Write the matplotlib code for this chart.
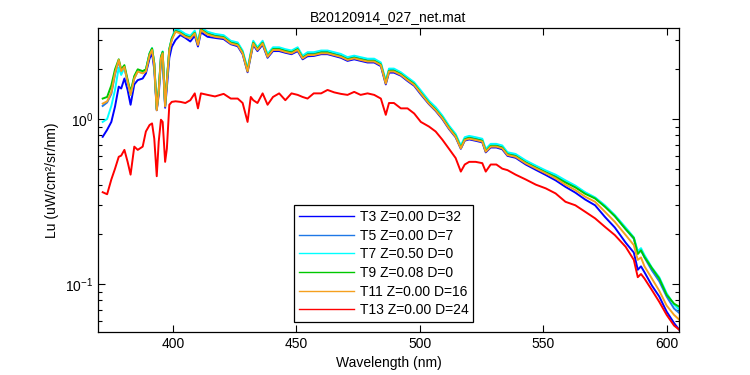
import matplotlib
matplotlib.use('Agg')
import matplotlib.pyplot as plt
from matplotlib.ticker import LogLocator, NullFormatter, MultipleLocator

# fonte parecida com Arial/Helvetica
plt.rcParams['font.family'] = ['Liberation Sans', 'DejaVu Sans']
plt.rcParams['font.size'] = 10

# comprimentos de onda (nm)
wl = [371.5, 373.3, 375.0, 376.5, 378.0, 379.0, 380.3, 381.6, 382.8, 384.3,
      385.7, 387.7, 389.0, 390.5, 391.5, 392.4, 393.4, 394.2, 395.1, 395.8,
      396.8, 397.5, 398.5, 399.5, 401.0, 403.0, 405.0, 407.0, 408.8, 410.1,
      411.3, 414.0, 417.0, 420.5, 423.4, 426.2, 428.2, 430.2, 431.5, 432.5,
      434.2, 436.3, 438.3, 440.5, 443.0, 445.5, 448.0, 450.5, 452.5, 454.5,
      457.0, 460.0, 462.6, 465.3, 468.0, 470.7, 473.4, 476.0, 478.8, 481.5,
      484.2, 486.2, 487.5, 489.5, 492.3, 495.0, 497.7, 500.4, 503.7, 506.4,
      509.1, 511.8, 514.5, 516.6, 518.2, 520.0, 522.6, 525.3, 526.7, 528.7,
      531.0, 533.4, 535.5, 538.8, 542.9, 547.0, 551.0, 555.0, 559.0, 563.0,
      567.0, 571.0, 575.0, 579.0, 583.4, 586.7, 588.3, 589.6, 591.0, 594.0,
      597.0, 600.0, 603.0, 605.0]

# Lu de cada série
t3 = [0.78, 0.86, 0.96, 1.19, 1.57, 1.53, 1.76, 1.50, 1.22, 1.62,
      1.72, 1.76, 1.89, 2.33, 2.50, 2.00, 1.13, 1.40, 2.23, 2.30,
      1.17, 1.55, 2.35, 2.74, 3.01, 3.23, 3.10, 2.95, 3.20, 2.75,
      3.35, 3.15, 3.10, 3.05, 2.84, 2.76, 2.47, 1.92, 2.40, 2.82,
      2.58, 2.82, 2.35, 2.58, 2.58, 2.52, 2.47, 2.58, 2.30, 2.40,
      2.41, 2.47, 2.47, 2.41, 2.35, 2.25, 2.30, 2.25, 2.20, 2.20,
      2.09, 1.62, 1.91, 1.91, 1.83, 1.70, 1.59, 1.41, 1.23, 1.12,
      1.00, 0.870, 0.775, 0.660, 0.740, 0.752, 0.738, 0.722, 0.628, 0.672,
      0.672, 0.655, 0.598, 0.582, 0.530, 0.492, 0.458, 0.425, 0.388, 0.358,
      0.325, 0.300, 0.255, 0.220, 0.178, 0.155, 0.122, 0.128, 0.118, 0.098,
      0.084, 0.068, 0.058, 0.053]

t5 = [1.20, 1.26, 1.42, 1.86, 2.25, 1.93, 2.05, 1.67, 1.40, 1.76,
      1.95, 1.90, 1.96, 2.47, 2.66, 2.15, 1.14, 1.48, 2.36, 2.54,
      1.20, 1.70, 2.62, 3.05, 3.45, 3.37, 3.21, 3.14, 3.37, 2.87,
      3.53, 3.32, 3.21, 3.16, 2.93, 2.86, 2.55, 1.98, 2.49, 2.93,
      2.67, 2.93, 2.43, 2.67, 2.67, 2.60, 2.55, 2.67, 2.38, 2.49,
      2.49, 2.55, 2.55, 2.49, 2.43, 2.33, 2.38, 2.33, 2.27, 2.27,
      2.16, 1.67, 1.98, 1.98, 1.89, 1.75, 1.64, 1.46, 1.26, 1.15,
      1.03, 0.896, 0.797, 0.677, 0.761, 0.775, 0.761, 0.745, 0.647, 0.694,
      0.694, 0.677, 0.617, 0.602, 0.550, 0.512, 0.478, 0.450, 0.420, 0.390,
      0.357, 0.332, 0.296, 0.258, 0.215, 0.188, 0.154, 0.160, 0.145, 0.121,
      0.104, 0.084, 0.071, 0.067]

t7 = [0.96, 1.00, 1.20, 1.50, 2.05, 1.85, 2.05, 1.70, 1.40, 1.80,
      1.96, 1.93, 1.99, 2.50, 2.69, 2.17, 1.16, 1.50, 2.39, 2.57,
      1.22, 1.72, 2.66, 3.10, 3.52, 3.43, 3.28, 3.20, 3.43, 2.92,
      3.60, 3.38, 3.28, 3.22, 2.98, 2.91, 2.60, 2.02, 2.54, 2.98,
      2.72, 2.98, 2.48, 2.72, 2.72, 2.65, 2.60, 2.72, 2.42, 2.54,
      2.54, 2.60, 2.60, 2.54, 2.48, 2.37, 2.42, 2.37, 2.32, 2.32,
      2.20, 1.71, 2.02, 2.02, 1.92, 1.79, 1.67, 1.49, 1.29, 1.18,
      1.05, 0.913, 0.812, 0.691, 0.776, 0.790, 0.776, 0.759, 0.659, 0.707,
      0.707, 0.691, 0.629, 0.614, 0.561, 0.522, 0.488, 0.460, 0.425, 0.395,
      0.360, 0.335, 0.300, 0.262, 0.220, 0.192, 0.158, 0.165, 0.150, 0.126,
      0.110, 0.088, 0.075, 0.070]

t9 = [1.33, 1.36, 1.60, 2.00, 2.30, 2.00, 2.12, 1.73, 1.46, 1.82,
      2.00, 1.95, 2.00, 2.50, 2.68, 2.18, 1.15, 1.50, 2.38, 2.55,
      1.21, 1.72, 2.66, 3.08, 3.41, 3.33, 3.18, 3.11, 3.33, 2.84,
      3.49, 3.28, 3.18, 3.13, 2.90, 2.83, 2.53, 1.96, 2.46, 2.90,
      2.65, 2.90, 2.40, 2.65, 2.65, 2.58, 2.53, 2.65, 2.35, 2.46,
      2.46, 2.53, 2.53, 2.46, 2.40, 2.30, 2.35, 2.30, 2.25, 2.25,
      2.14, 1.66, 1.96, 1.96, 1.87, 1.74, 1.63, 1.44, 1.25, 1.14,
      1.02, 0.887, 0.789, 0.671, 0.753, 0.768, 0.753, 0.737, 0.640, 0.687,
      0.687, 0.671, 0.611, 0.596, 0.544, 0.507, 0.474, 0.445, 0.412, 0.385,
      0.352, 0.330, 0.294, 0.258, 0.215, 0.190, 0.152, 0.160, 0.146, 0.125,
      0.108, 0.086, 0.076, 0.073]

t11 = [1.24, 1.28, 1.45, 1.90, 2.28, 1.95, 2.07, 1.68, 1.40, 1.76,
       1.94, 1.89, 1.94, 2.44, 2.62, 2.12, 1.13, 1.46, 2.33, 2.50,
       1.19, 1.68, 2.60, 3.01, 3.38, 3.30, 3.15, 3.08, 3.30, 2.81,
       3.46, 3.25, 3.15, 3.10, 2.87, 2.80, 2.50, 1.94, 2.44, 2.87,
       2.62, 2.87, 2.38, 2.62, 2.62, 2.55, 2.50, 2.62, 2.33, 2.44,
       2.44, 2.50, 2.50, 2.44, 2.38, 2.28, 2.33, 2.28, 2.23, 2.23,
       2.12, 1.64, 1.94, 1.94, 1.85, 1.72, 1.61, 1.43, 1.24, 1.13,
       1.01, 0.878, 0.781, 0.664, 0.746, 0.760, 0.746, 0.730, 0.634, 0.680,
       0.680, 0.664, 0.605, 0.590, 0.539, 0.502, 0.469, 0.437, 0.400, 0.371,
       0.338, 0.315, 0.274, 0.238, 0.198, 0.172, 0.140, 0.145, 0.128, 0.108,
       0.091, 0.074, 0.065, 0.061]

t13 = [0.36, 0.35, 0.43, 0.50, 0.59, 0.60, 0.65, 0.55, 0.46, 0.68,
       0.65, 0.68, 0.84, 0.92, 0.94, 0.76, 0.45, 0.73, 0.99, 0.96,
       0.55, 0.66, 1.22, 1.27, 1.28, 1.27, 1.25, 1.30, 1.43, 1.16,
       1.43, 1.40, 1.37, 1.42, 1.33, 1.33, 1.25, 0.96, 1.36, 1.30,
       1.25, 1.43, 1.22, 1.36, 1.43, 1.30, 1.43, 1.40, 1.36, 1.33,
       1.43, 1.43, 1.50, 1.45, 1.42, 1.40, 1.46, 1.40, 1.43, 1.40,
       1.33, 1.06, 1.25, 1.25, 1.16, 1.16, 1.08, 0.96, 0.90, 0.84,
       0.75, 0.66, 0.58, 0.48, 0.53, 0.55, 0.55, 0.54, 0.48, 0.53,
       0.53, 0.50, 0.49, 0.46, 0.43, 0.40, 0.38, 0.354, 0.315, 0.300,
       0.274, 0.250, 0.222, 0.198, 0.168, 0.140, 0.110, 0.115, 0.108, 0.092,
       0.078, 0.065, 0.056, 0.053]

series = [t3, t5, t7, t9, t11, t13]
labels = ['T3 Z=0.00 D=32', 'T5 Z=0.00 D=7', 'T7 Z=0.50 D=0',
          'T9 Z=0.08 D=0', 'T11 Z=0.00 D=16', 'T13 Z=0.00 D=24']
cores = ['#0000ff', '#1e78e6', '#00ffff', '#00c800', '#f5a01e', '#ff0000']

fig = plt.figure(figsize=(7.5, 3.75), dpi=100)
ax = fig.add_axes([98 / 750, 43 / 375, 581 / 750, 304 / 375])

for y, lab, c in zip(series, labels, cores):
    ax.plot(wl, y, color=c, linewidth=1.4, label=lab)

ax.set_yscale('log')
ax.set_xlim(369.6, 605)
ax.set_ylim(0.0512, 3.56)
ax.xaxis.set_major_locator(MultipleLocator(50))
ax.yaxis.set_major_locator(LogLocator(base=10))
ax.yaxis.set_minor_locator(LogLocator(base=10, subs=range(2, 10)))
ax.yaxis.set_minor_formatter(NullFormatter())

ax.tick_params(which='both', direction='in', top=True, right=True, width=0.8)
ax.tick_params(which='major', length=5)
ax.tick_params(which='minor', length=3)
for s in ax.spines.values():
    s.set_linewidth(0.9)

ax.set_title('B20120914_027_net.mat', fontsize=10, pad=5)
ax.set_xlabel('Wavelength (nm)', fontsize=10)
ax.set_ylabel('Lu (uW/cm²/sr/nm)', fontsize=10)

leg = ax.legend(loc='lower left', bbox_to_anchor=(0.337, 0.033), fontsize=10,
                frameon=True, fancybox=False, framealpha=1, edgecolor='black',
                handlelength=4.0, handletextpad=0.4, labelspacing=0.33,
                borderpad=0.35, borderaxespad=0)
leg.get_frame().set_linewidth(0.9)
for ln in leg.get_lines():
    ln.set_linewidth(1.0)

fig.savefig('out.png', dpi=100)
